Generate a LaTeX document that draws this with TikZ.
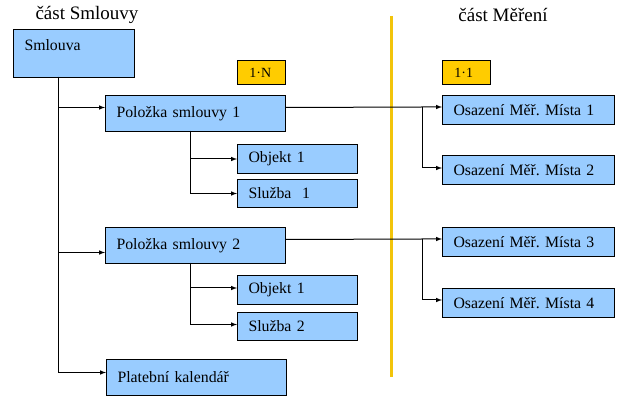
\documentclass[tikz,border=0pt]{standalone}
\usepackage{fontspec}
\setmainfont{Liberation Serif}
\frenchspacing
\definecolor{boxblue}{RGB}{153,204,255}
\definecolor{tagorange}{RGB}{255,204,0}
\definecolor{divyellow}{RGB}{242,196,10}
\begin{document}
\begin{tikzpicture}[
    x=1pt, y=-1pt,
    every node/.style={font=\fontsize{15.8}{17}\selectfont},
    box/.style={rectangle, draw=black, line width=1pt, fill=boxblue, anchor=north west, align=left, inner xsep=11pt, inner ysep=0pt},
    bigbox/.style={box, text width=158pt, minimum height=36pt},
    smallbox/.style={box, text width=98pt, minimum height=29pt},
    osazbox/.style={box, text width=150pt, minimum height=29pt},
    tag/.style={rectangle, draw=black, line width=0.8pt, fill=tagorange, anchor=north west, align=left, inner xsep=12pt, inner ysep=0pt, text width=24pt, minimum height=24pt, font=\fontsize{14}{15}\selectfont},
    title/.style={font=\fontsize{19}{20}\selectfont},
    arr/.style={-latex, line width=1pt, black}
]
\useasboundingbox (0,0) rectangle (622,406);

\node[title] (tleft)  at (87,15)  {část Smlouvy};
\node[title] (tright) at (503,15) {část Měření};

\draw[divyellow, line width=3pt] (391,16) -- (391,377);

\node[box, text width=99pt, minimum height=48pt, text height=15pt, text depth=21pt] (smlouva) at (13,29) {Smlouva};
\node[tag] (tagN) at (237,60) {1·N};
\node[tag] (tag1) at (442,60) {1·1};

\node[bigbox] (pol1) at (105,95)  {Položka smlouvy 1};
\node[smallbox] (obj1) at (237,144) {Objekt 1};
\node[smallbox, minimum height=28pt] (sluz1) at (237,179) {Služba~ 1};

\node[bigbox] (pol2) at (105,227) {Položka smlouvy 2};
\node[smallbox] (obj2) at (237,275) {Objekt 1};
\node[smallbox, minimum height=28pt] (sluz2) at (237,312) {Služba 2};

\node[bigbox] (plat) at (106,359) {Platební kalendář};

\node[osazbox] (osaz1) at (442,95)  {Osazení Měř. Místa 1};
\node[osazbox] (osaz2) at (442,155) {Osazení Měř. Místa 2};
\node[osazbox] (osaz3) at (442,227) {Osazení Měř. Místa 3};
\node[osazbox] (osaz4) at (442,288) {Osazení Měř. Místa 4};

\coordinate (trunk) at (58,77);
\coordinate (sub1) at (190,131);
\coordinate (sub2) at (190,263);
\coordinate (br1) at (422,107);
\coordinate (br2) at (422,239);

\draw[arr] (trunk) |- ([yshift=6pt]pol1.west);
\draw[arr] (trunk) |- ([yshift=-7pt]pol2.west);
\draw[arr] (trunk) |- ([yshift=5pt]plat.west);
\draw[arr] (sub1) |- (obj1.west);
\draw[arr] (sub1) |- (sluz1.west);
\draw[arr] (sub2) |- ([yshift=2pt]obj2.west);
\draw[arr] (sub2) |- ([yshift=2pt]sluz2.west);
\draw[arr] ([yshift=6pt]pol1.east) -- (br1) -- (br1 -| osaz1.west);
\draw[arr] (br1) |- ([yshift=2pt]osaz2.west);
\draw[arr] ([yshift=6pt]pol2.east) -- (br2) -- (br2 -| osaz3.west);
\draw[arr] (br2) |- ([yshift=3pt]osaz4.west);
\end{tikzpicture}
\end{document}
